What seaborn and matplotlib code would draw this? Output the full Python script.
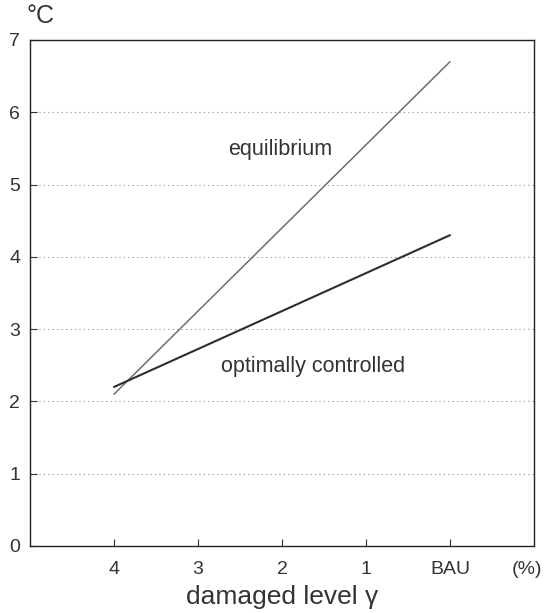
import matplotlib
matplotlib.use("Agg")
import matplotlib.pyplot as plt
import seaborn as sns
import pandas as pd

categories = ["4", "3", "2", "1", "BAU"]
cat_pos = [0, 4]
eq_vals = [2.1, 6.7]
opt_vals = [2.2, 4.3]
yticks = [0, 1, 2, 3, 4, 5, 6, 7]
unit_label = "(%)"

sns.set_theme(style="white")
plt.rcParams['font.family'] = ['Liberation Sans', 'DejaVu Sans']

df = pd.DataFrame({
    "x": cat_pos * 2,
    "y": eq_vals + opt_vals,
    "series": ["equilibrium"] * 2 + ["optimally controlled"] * 2,
})

fig = plt.figure(figsize=(5.5, 6.13), dpi=100)
ax = fig.add_axes([30/550, 67/613, 504/550, 506/613])

for y in range(1, 7):
    ax.axhline(y, color="#8a8a8a", lw=0.8, ls=(0, (1, 3)), zorder=0)

sns.lineplot(data=df, x="x", y="y", hue="series",
             palette={"equilibrium": "#6e6e6e", "optimally controlled": "#2e2e2e"},
             ax=ax, legend=False, linewidth=1.2)
for l, lw in zip(ax.get_lines()[-2:], [1.1, 1.5]):
    l.set_linewidth(lw)

ax.set_xlim(-1, 5)
ax.set_ylim(0, 7)
ax.set_xticks(range(len(categories)))
ax.set_xticklabels(categories)
ax.set_xticks([4.92], minor=True)
ax.set_xticklabels([unit_label], minor=True)
ax.set_yticks(yticks)
ax.tick_params(direction="in", length=5, width=0.8, colors="#333333",
               labelsize=14, bottom=True, left=True)
ax.tick_params(axis="x", which="both", pad=11)
ax.tick_params(axis="x", which="minor", length=0, labelsize=14, colors="#333333")
ax.tick_params(axis="y", pad=7)
for s in ax.spines.values():
    s.set_color("#222222")
    s.set_linewidth(1.0)
ax.set_xlabel("damaged level γ", fontsize=19, color="#333333", labelpad=5)
ax.set_ylabel("")

ax.text(1.98, 5.48, "equilibrium", fontsize=15.5, color="#333333", ha="center", va="center")
ax.text(2.37, 2.48, "optimally controlled", fontsize=15.5, color="#333333", ha="center", va="center")
fig.text(41/550, 1 - 16/613, "°C", fontsize=18, color="#333333", ha="center", va="center")

fig.savefig("out.png", dpi=100, facecolor="white")
